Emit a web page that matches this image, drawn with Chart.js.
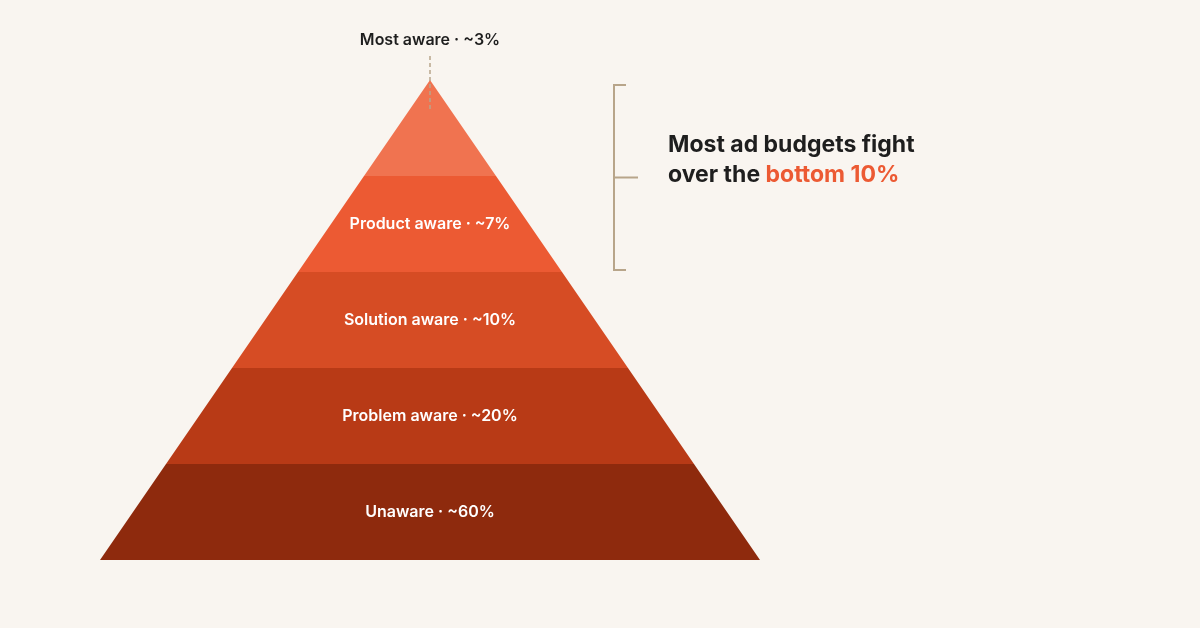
<!DOCTYPE html>
<html><head><meta charset="utf-8">
<script src="https://cdn.jsdelivr.net/npm/chart.js@4.4.0/dist/chart.umd.min.js"></script>
<style>html,body{margin:0;background:#F9F5F0;}canvas{display:block}</style>
</head><body><canvas id="c" width="1200" height="628"></canvas>
<script>
const categories = ["Unaware","Problem aware","Solution aware","Product aware","Most aware"];
const shares = [60,20,10,7,3];
const colors = ["#8E2A0D","#B83A16","#D64C24","#EC5A33","#F07350"];
const headline1 = "Most ad budgets fight";
const headline2a = "over the ";
const headline2b = "bottom 10%";

const n = categories.length;
const datasets = categories.map((c,i)=>({
  label:c,
  data:[{x:-(n-i)/n,y:i},{x:(n-i)/n,y:i},{x:(n-i-1)/n,y:i+1},{x:-(n-i-1)/n,y:i+1}],
  backgroundColor:colors[i], pointRadius:0, showLine:false
}));

const pyramid = {
  id:'pyramid',
  afterDatasetsDraw(chart){
    const ctx=chart.ctx, xs=chart.scales.x, ys=chart.scales.y;
    chart.data.datasets.forEach((ds,i)=>{
      ctx.beginPath();
      ds.data.forEach((p,j)=>{const X=xs.getPixelForValue(p.x),Y=ys.getPixelForValue(p.y); j?ctx.lineTo(X,Y):ctx.moveTo(X,Y);});
      ctx.closePath(); ctx.fillStyle=ds.backgroundColor; ctx.fill();
    });
    ctx.textAlign='center'; ctx.textBaseline='middle';
    ctx.font='600 16px Inter';
    for(let i=0;i<n-1;i++){
      ctx.fillStyle='#FFFFFF';
      ctx.fillText(categories[i]+' · ~'+shares[i]+'%', xs.getPixelForValue(0), ys.getPixelForValue(i+0.5));
    }
    const ax=xs.getPixelForValue(0), ay=ys.getPixelForValue(n);
    ctx.fillStyle='#1E1E1E';
    ctx.fillText(categories[n-1]+' · ~'+shares[n-1]+'%', ax, 40);
    ctx.strokeStyle='#B8A58A'; ctx.lineWidth=1.5; ctx.setLineDash([4,3]);
    ctx.beginPath(); ctx.moveTo(ax,56); ctx.lineTo(ax,ay+32); ctx.stroke(); ctx.setLineDash([]);
    // bracket over top two bands
    const yt=ys.getPixelForValue(n)+5, yb=ys.getPixelForValue(n-2)-2, ym=(yt+yb)/2;
    ctx.lineWidth=2;
    ctx.beginPath(); ctx.moveTo(626,yt); ctx.lineTo(614,yt); ctx.lineTo(614,yb); ctx.lineTo(626,yb);
    ctx.moveTo(614,ym); ctx.lineTo(638,ym); ctx.stroke();
    ctx.textAlign='left'; ctx.font='700 23px Inter'; ctx.fillStyle='#1E1E1E';
    ctx.fillText(headline1,668,145);
    ctx.fillText(headline2a,668,175);
    const w=ctx.measureText(headline2a).width;
    ctx.fillStyle='#EC5A33'; ctx.fillText(headline2b,668+w,175);
  }
};

new Chart(document.getElementById('c'),{
  type:'scatter',
  data:{datasets},
  options:{
    responsive:false, animation:false,
    layout:{padding:{left:100,right:440,top:80,bottom:68}},
    plugins:{legend:{display:false},tooltip:{enabled:false}},
    scales:{x:{type:'linear',min:-1,max:1,display:false},y:{type:'linear',min:0,max:n,display:false}}
  },
  plugins:[pyramid]
});
</script></body></html>
